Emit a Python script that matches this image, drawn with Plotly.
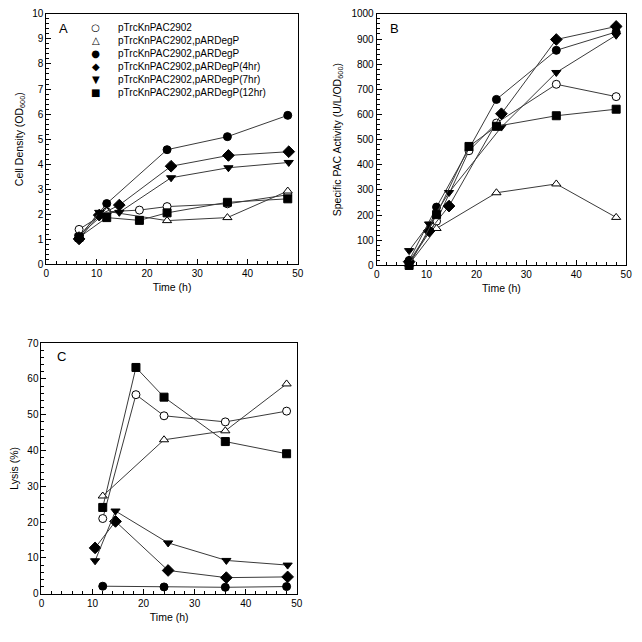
import plotly.graph_objects as go

W = H = 642

names = ["pTrcKnPAC2902", "pTrcKnPAC2902,pARDegP", "pTrcKnPAC2902,pARDegP",
         "pTrcKnPAC2902,pARDegP(4hr)", "pTrcKnPAC2902,pARDegP(7hr)", "pTrcKnPAC2902,pARDegP(12hr)"]
symbols = ["circle", "triangle-up", "circle", "diamond", "triangle-down", "square"]
filled = [False, False, True, True, True, True]
legend_glyphs = ["\u25CB", "\u25B3", "\u25CF", "\u25C6", "\u25BC", "\u25A0"]

# Panel A: cell density (OD600)
a_t = [
    [6.5, 12, 18.5, 24, 36, 48],
    [6.5, 12, 24, 36, 48],
    [6.5, 12, 24, 36, 48],
    [6.5, 10.5, 14.5, 24.8, 36.2, 48.2],
    [6.5, 10.5, 14.5, 24.8, 36.2, 48.2],
    [6.5, 12, 18.5, 24, 36, 48],
]
a_v = [
    [1.40, 2.10, 2.17, 2.31, 2.42, 2.78],
    [1.15, 2.12, 1.75, 1.87, 2.93],
    [1.10, 2.43, 4.58, 5.10, 5.95],
    [1.02, 1.97, 2.37, 3.92, 4.35, 4.50],
    [1.10, 2.08, 2.08, 3.46, 3.86, 4.07],
    [1.08, 1.87, 1.76, 2.06, 2.48, 2.62],
]

# Panel B: specific PAC activity
b_t = [
    [6.5, 12, 18.5, 24, 36, 48],
    [6.5, 12, 24, 36, 48],
    [6.5, 12, 24, 36, 48],
    [6.5, 10.5, 14.5, 25, 36, 48],
    [6.5, 10.5, 14.5, 25, 36, 48],
    [6.5, 12, 18.5, 24, 36, 48],
]
b_v = [
    [10, 176, 456, 566, 720, 671],
    [5, 147, 289, 324, 191],
    [20, 232, 660, 855, 928],
    [15, 137, 236, 603, 898, 950],
    [59, 165, 290, 550, 767, 915],
    [0, 202, 473, 553, 595, 621],
]

# Panel C: lysis (%)
c_t = [
    [12, 18.5, 24, 36, 48],
    [12, 24, 36, 48],
    [12, 24, 36, 48],
    [10.5, 14.5, 24.8, 36.2, 48.2],
    [10.5, 14.5, 24.8, 36.2, 48.2],
    [12, 18.5, 24, 36, 48],
]
c_v = [
    [21.0, 55.6, 49.7, 48.0, 51.0],
    [27.3, 43.0, 45.5, 58.6],
    [2.1, 1.9, 1.8, 2.0],
    [12.8, 20.2, 6.5, 4.5, 4.7],
    [9.2, 23.1, 14.2, 9.3, 8.0],
    [24.1, 63.2, 54.9, 42.5, 39.1],
]

FONT = "Arial, Liberation Sans, sans-serif"
TICK_SIZE = 10
TITLE_SIZE = 10.5
fig = go.Figure()

panels = [(a_t, a_v, "x", "y"), (b_t, b_v, "x2", "y2"), (c_t, c_v, "x3", "y3")]
for ts, vs, xa, ya in panels:
    for i in range(6):
        sz = 9 if symbols[i] == "diamond" else 8
        fig.add_trace(go.Scatter(
            x=ts[i], y=vs[i], mode="lines+markers", name=names[i],
            xaxis=xa, yaxis=ya, showlegend=False, cliponaxis=False,
            line=dict(color="#3a3a3a", width=1),
            marker=dict(symbol=symbols[i], size=sz,
                        color="black" if filled[i] else "white",
                        line=dict(color="black", width=1)),
        ))

def px_x(p):
    return p / W

def px_y(p):
    return 1 - p / H

def xax(dom, anchor):
    return dict(domain=dom, anchor=anchor, range=[0, 50], tick0=0, dtick=10,
                ticks="inside", ticklen=5, tickwidth=1, tickcolor="black",
                minor=dict(dtick=2, ticks="inside", ticklen=3, tickcolor="black"),
                showline=True, linecolor="black", linewidth=1, mirror=True,
                showgrid=False, zeroline=False, ticklabeloverflow="allow",
                tickfont=dict(family=FONT, size=TICK_SIZE, color="black"),
                title=dict(text="Time (h)", font=dict(family=FONT, size=TITLE_SIZE, color="black"), standoff=5))

def yax(dom, anchor, rng, dt, mdt, title, standoff):
    return dict(domain=dom, anchor=anchor, range=rng, tick0=0, dtick=dt,
                ticks="inside", ticklen=5, tickwidth=1, tickcolor="black",
                minor=dict(dtick=mdt, ticks="inside", ticklen=3, tickcolor="black"),
                showline=True, linecolor="black", linewidth=1, mirror=True,
                showgrid=False, zeroline=False, ticklabeloverflow="allow",
                tickfont=dict(family=FONT, size=TICK_SIZE, color="black"),
                title=dict(text=title, font=dict(family=FONT, size=TITLE_SIZE, color="black"), standoff=standoff))

fig.update_layout(
    width=W, height=H, margin=dict(l=0, r=0, t=0, b=0),
    paper_bgcolor="white", plot_bgcolor="white",
    xaxis=xax([px_x(44), px_x(299)], "y"),
    yaxis=yax([px_y(264), px_y(9)], "x", [0, 10], 1, 0.2, "Cell Density (OD<sub>600</sub>)", 6),
    xaxis2=xax([px_x(379), px_x(632)], "y2"),
    yaxis2=yax([px_y(265), px_y(9)], "x2", [0, 1000], 100, 20, "Specific PAC Activity (U/L/OD<sub>600</sub>)", 7),
    xaxis3=xax([px_x(39), px_x(298)], "y3"),
    yaxis3=yax([px_y(599), px_y(344)], "x3", [0, 70], 10, 2, "Lysis (%)", 6),
    showlegend=False,
)

ann = []
for lab, xpx, ypx in [("A", 61, 24), ("B", 397, 24), ("C", 59, 358)]:
    ann.append(dict(text=lab, x=px_x(xpx), y=px_y(ypx), xref="paper", yref="paper",
                    showarrow=False, xanchor="center", yanchor="middle",
                    font=dict(family=FONT, size=13, color="black")))

legend_mid = 24.3 + 2.5 * 12.7
ann.append(dict(text="<br>".join(legend_glyphs), x=px_x(94), y=px_y(legend_mid),
                xref="paper", yref="paper", showarrow=False, xanchor="center", yanchor="middle",
                align="center", font=dict(family="DejaVu Sans", size=10, color="black")))
ann.append(dict(text="<br>".join(names), x=px_x(115), y=px_y(legend_mid),
                xref="paper", yref="paper", showarrow=False, xanchor="left", yanchor="middle",
                align="left", font=dict(family=FONT, size=10, color="black")))
fig.update_layout(annotations=ann)

fig.write_html("out.html",
               config={"displayModeBar": False},
               post_script="document.body.style.margin='0';document.body.style.overflow='hidden';")
